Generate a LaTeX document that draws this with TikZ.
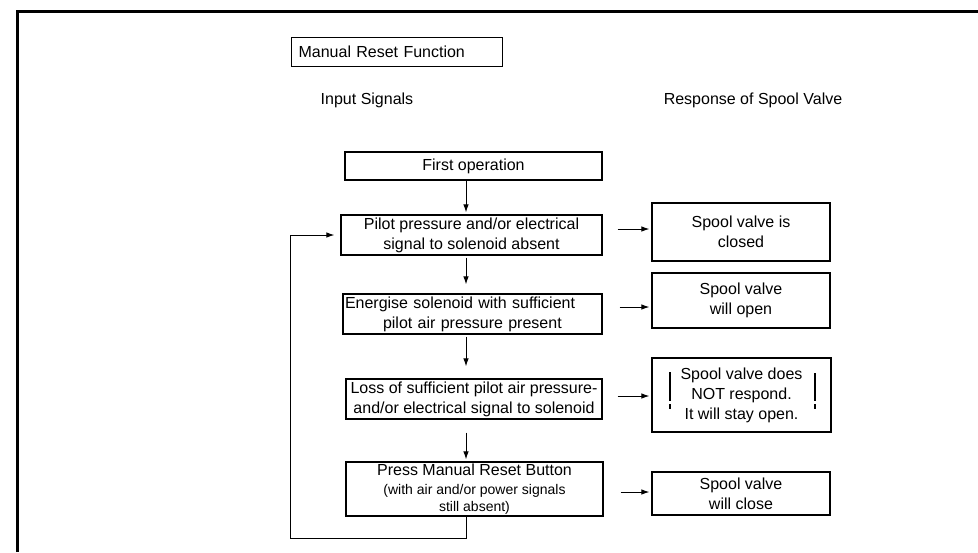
\documentclass[tikz,border=0pt]{standalone}
\usepackage{fontspec}
\setmainfont{Liberation Sans}
\usetikzlibrary{arrows.meta}
\begin{document}
\begin{tikzpicture}[x=1pt,y=-1pt,
  box/.style={draw, line width=1.2pt, inner sep=0pt, align=center, font=\fontsize{16}{20}\selectfont},
  hdr/.style={font=\fontsize{16}{20}\selectfont, inner sep=0pt},
  arr/.style={line width=1pt, -{Latex[length=8pt,width=5.5pt]}},
  bang/.style={line width=2.2pt}]
\useasboundingbox (0,0) rectangle (978,552);
\fill[white] (0,0) rectangle (978,552);
\draw[line width=3pt] (17,552) -- (17,11) -- (978,11);

% title
\node[box, anchor=north west, minimum height=29pt, text width=197pt, align=left, inner xsep=7pt] (title) at (291,37) {Manual Reset Function};

% headers
\node[hdr] (hin) at (367,100) {Input Signals};
\node[hdr] (hout) at (753,100) {Response of Spool Valve};

% left column
\node[box, minimum width=257pt, minimum height=28pt] (first) at (473.5,166) {First operation};
\node[box, minimum width=261pt, minimum height=40pt] (pilot) at (471.5,235) {Pilot pressure and/or electrical\\signal to solenoid absent};
\node[box, minimum width=259pt, minimum height=40pt, text width=255pt, align=left, inner xsep=2pt] (ener) at (472.5,314) {Energise solenoid with sufficient\\\hspace*{38pt}pilot air pressure present};
\node[box, minimum width=256pt, minimum height=40pt] (loss) at (474,399) {Loss of sufficient pilot air pressure-\\and/or electrical signal to solenoid};
\node[box, minimum width=257pt, minimum height=54pt] (press) at (474.5,489) {Press Manual Reset Button\\[-1pt]{\fontsize{14}{16}\selectfont (with air and/or power signals}\\[-3pt]{\fontsize{14}{16}\selectfont still absent)}};

% right column
\node[box, minimum width=178pt, minimum height=58pt] (s1) at (741,232) {Spool valve is\\closed};
\node[box, minimum width=178pt, minimum height=55pt] (s2) at (741,300.5) {Spool valve\\will open};
\node[box, minimum width=179pt, minimum height=74pt] (s3) at (741.5,395) {Spool valve does\\NOT respond.\\It will stay open.};
\node[box, minimum width=178pt, minimum height=43pt] (s4) at (741,493.5) {Spool valve\\will close};

% exclamation marks
\draw[bang] (670,372) -- (670,401);
\draw[bang] (670,404) -- (670,409);
\draw[bang] (815,373) -- (815,401);
\draw[bang] (815,404) -- (815,409);

% vertical flow
\coordinate (cx) at (466,0);
\coordinate (lb) at (290,538);
\draw[arr, shorten >=2pt] (first.south -| cx) -- (pilot.north -| cx);
\draw[arr, shorten <=2pt, shorten >=9pt] (pilot.south -| cx) -- (ener.north -| cx);
\draw[arr, shorten <=2pt, shorten >=12pt] (ener.south -| cx) -- (loss.north -| cx);
\draw[arr, shorten <=13pt, shorten >=2pt] (loss.south -| cx) -- (press.north -| cx);

% loop back
\draw[arr, shorten >=6pt] (press.south -| cx) |- (lb) |- (pilot.west);

% responses
\draw[arr, shorten >=2pt] ([xshift=15pt,yshift=6pt]pilot.east) -- ([yshift=6pt]pilot.east -| s1.west);
\draw[arr, shorten >=2pt] ([xshift=17pt,yshift=7pt]ener.east) -- ([yshift=7pt]ener.east -| s2.west);
\draw[arr, shorten >=2pt] ([xshift=15pt,yshift=3pt]loss.east) -- ([yshift=3pt]loss.east -| s3.west);
\draw[arr, shorten >=2pt] ([xshift=17pt,yshift=-3pt]press.east) -- ([yshift=-3pt]press.east -| s4.west);
\end{tikzpicture}
\end{document}
